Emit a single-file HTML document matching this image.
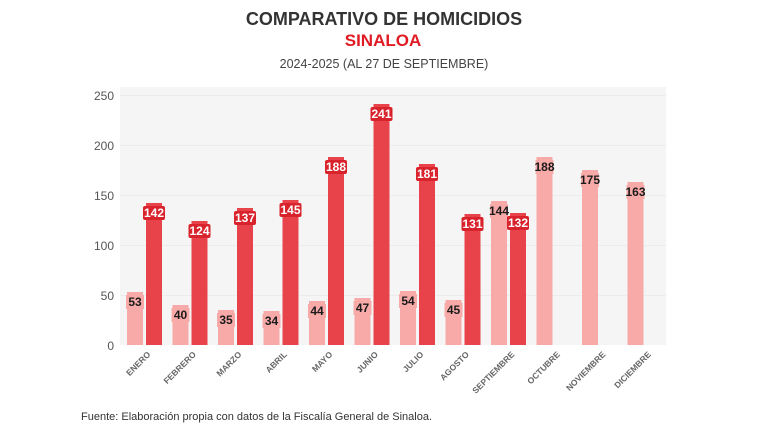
<!DOCTYPE html>
<html><head><meta charset="utf-8"><style>
body{margin:0;background:#fff;}
svg{display:block;font-family:"Liberation Sans",sans-serif;}
</style></head><body>
<svg width="768" height="432" viewBox="0 0 768 432" xmlns="http://www.w3.org/2000/svg">
<rect x="0" y="0" width="768" height="432" fill="#fff"/>
<text x="384" y="25" text-anchor="middle" font-size="18" font-weight="bold" fill="#333">COMPARATIVO DE HOMICIDIOS</text>
<text x="383" y="46" text-anchor="middle" font-size="17" font-weight="bold" fill="#e01b24">SINALOA</text>
<text x="384" y="68" text-anchor="middle" font-size="12.5" fill="#444">2024-2025 (AL 27 DE SEPTIEMBRE)</text>
<rect x="120" y="87" width="546" height="258" fill="#f5f5f5"/>
<g stroke="#ececec" stroke-width="1">
<line x1="120" y1="95.5" x2="666" y2="95.5"/><line x1="120" y1="145.5" x2="666" y2="145.5"/>
<line x1="120" y1="195.5" x2="666" y2="195.5"/><line x1="120" y1="245.5" x2="666" y2="245.5"/>
<line x1="120" y1="295.5" x2="666" y2="295.5"/>
</g>
<g font-size="12" fill="#555" text-anchor="end">
<text x="114" y="100">250</text><text x="114" y="150">200</text><text x="114" y="200">150</text>
<text x="114" y="250">100</text><text x="114" y="300">50</text><text x="114" y="350">0</text>
</g>
<g id="bars"></g>
</svg>
<script>
var L=[53,40,35,34,44,47,54,45,144,188,175,163];
var D=[142,124,137,145,188,241,181,131,132,null,null,null];
var M=["ENERO","FEBRERO","MARZO","ABRIL","MAYO","JUNIO","JULIO","AGOSTO","SEPTIEMBRE","OCTUBRE","NOVIEMBRE","DICIEMBRE"];
var s="";
for(var i=0;i<12;i++){
 var g=120+45.5*i;
 var x=g+7,t=345-L[i];
 s+='<rect x="'+x+'" y="'+t+'" width="16" height="'+L[i]+'" fill="#f8aaa8"/>';
 s+='<rect x="'+(x-1)+'" y="'+(t+3)+'" width="18" height="14" fill="#f8aaa8"/>';
 s+='<text x="'+(x+8)+'" y="'+(t+14)+'" text-anchor="middle" font-size="12" font-weight="bold" fill="#1a1a1a">'+L[i]+'</text>';
 if(D[i]){
  var xd=g+26,td=345-D[i];
  s+='<rect x="'+xd+'" y="'+td+'" width="16" height="'+D[i]+'" fill="#e8434a"/>';
  s+='<rect x="'+(xd-3)+'" y="'+(td+3)+'" width="22" height="14" rx="2" fill="#d9232c"/>';
  s+='<text x="'+(xd+8)+'" y="'+(td+14)+'" text-anchor="middle" font-size="12" font-weight="bold" fill="#fff">'+D[i]+'</text>';
 }
 var cx=g+31,cy=355;
 s+='<text transform="translate('+cx+','+cy+') rotate(-45)" text-anchor="end" font-size="8.5" font-weight="bold" fill="#666">'+M[i]+'</text>';
}
document.getElementById("bars").innerHTML=s;
</script>
<div style="position:absolute;left:81px;top:411px;font:11px 'Liberation Sans',sans-serif;color:#333;">Fuente: Elaboración propia con datos de la Fiscalía General de Sinaloa.</div>
</body></html>
